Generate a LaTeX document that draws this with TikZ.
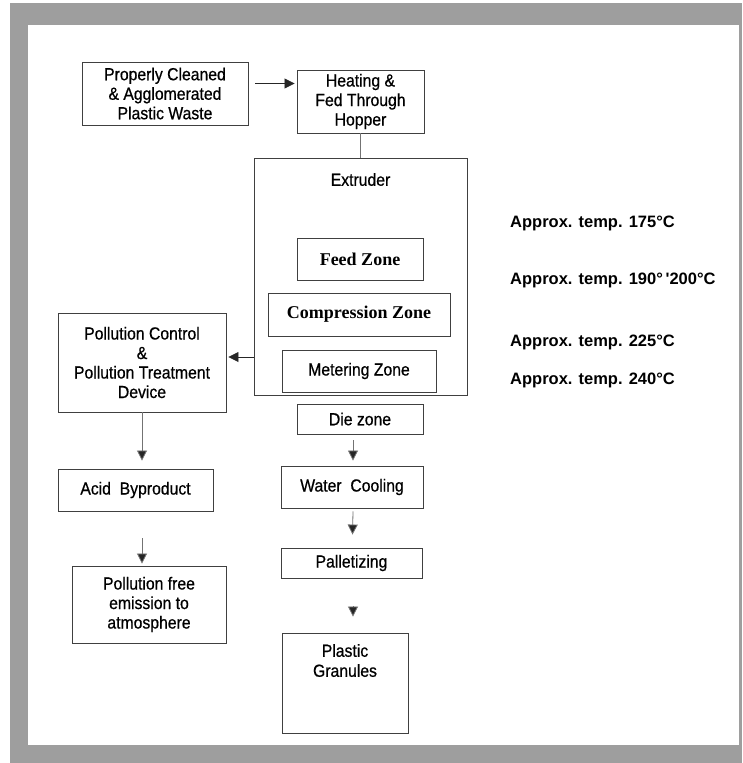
\documentclass[tikz,border=0pt]{standalone}
\usepackage{fontspec}
\setmainfont{Liberation Sans}
\newfontfamily\narrowsans[FakeStretch=0.9,FakeBold=0.6]{Liberation Sans}
\newfontfamily\boxserif{Liberation Serif}
\usetikzlibrary{arrows.meta,calc}
\definecolor{framegray}{gray}{0.62}
\definecolor{edge}{gray}{0.25}
\tikzset{
  box/.style={draw=edge, line width=0.9pt, inner sep=0pt, align=center,
    font=\narrowsans\fontsize{17.5}{19.5}\selectfont},
  zonebox/.style={box, font=\boxserif\bfseries\fontsize{18}{20}\selectfont},
  temp/.style={anchor=west, inner sep=0pt, font=\bfseries\fontsize{16.5}{18}\selectfont},
  flow/.style={draw=black!55, line width=0.8pt,
    -{Triangle[width=10pt,length=10pt,fill=black!85]}},
  link/.style={draw=black!55, line width=0.8pt}
}
\begin{document}
\begin{tikzpicture}[x=1pt,y=-1pt]
\useasboundingbox (0,0) rectangle (742,763);
% frame
\fill[framegray] (10,3) rectangle (742,763);
\fill[white] (28,25) rectangle (739,745);

% main line
\node[box, minimum width=166pt, minimum height=63pt] (clean) at (165,93.5)
  {Properly Cleaned\\ \& Agglomerated\\ Plastic Waste};
\node[box, minimum width=127pt, minimum height=63pt] (hopper) at (360.5,101.5)
  {Heating \&\\ Fed Through\\ Hopper};
\node[box, minimum width=213pt, minimum height=237pt,
  label={[name=extlbl, anchor=north, yshift=-12pt, font=\narrowsans\fontsize{17.5}{19}\selectfont]north:Extruder}]
  (extruder) at (360.5,276.5) {};
\node[zonebox, minimum width=126pt, minimum height=42pt] (feed) at (360,259) {Feed Zone};
\node[zonebox, minimum width=182pt, minimum height=43pt] (comp) at (359,314.5) {Compression Zone};
\node[box, minimum width=154pt, minimum height=42pt] (meter) at (359,371) {Metering Zone};
\node[box, minimum width=126pt, minimum height=30pt] (die) at (360,419) {Die zone};
\node[box, minimum width=142pt, minimum height=42pt] (water) at (352,487) {Water\ \ Cooling};
\node[box, minimum width=141pt, minimum height=30pt] (pallet) at (351.5,563) {Palletizing};
\node[box, minimum width=126pt, minimum height=100pt,
  label={[name=granlbl, anchor=north, yshift=-8pt, align=center, font=\narrowsans\fontsize{17.5}{20}\selectfont]north:Plastic\\ Granules}]
  (granules) at (345,683) {};

% pollution branch
\node[box, minimum width=168pt, minimum height=99pt] (poll) at (142,362.5)
  {Pollution Control\\ \&\\ Pollution Treatment\\ Device};
\node[box, minimum width=155pt, minimum height=42pt] (acid) at (135.5,490) {Acid\ \ Byproduct};
\node[box, minimum width=154pt, minimum height=77pt] (pfree) at (149,604.5)
  {Pollution free\\ emission to\\ atmosphere};

% zone temperatures
\node[temp] (t1) at (510,223) {Approx. temp. 175°C};
\node[temp] (t2) at (510,280) {Approx. temp. 190°\,\textquotesingle200°C};
\node[temp] (t3) at (510,342) {Approx. temp. 225°C};
\node[temp] (t4) at (510,380) {Approx. temp. 240°C};

% connectors
\draw[flow, draw=black!85] ($(clean.east)+(7,-10)$) -- ($(hopper.west)+(-2,-18)$);
\draw[link] (hopper.south) -- (extruder.north);
\coordinate (pollin) at (0,357);
\draw[flow, draw=black!85] (extruder.west |- pollin) -- ($(poll.east |- pollin)+(2,0)$);
\draw[flow] (poll.south) -- ($(poll.south |- acid.north)+(0,-8)$);
\draw[flow] ($(poll.south |- acid.south)+(0,27)$) -- ($(poll.south |- pfree.north)+(0,-2)$);
\draw[flow] ($(die.south -| water.north)+(1,6)$) -- ($(water.north)+(1,-5)$);
\draw[flow] ($(water.south)+(1,3)$) -- ($(pallet.north)+(1,-13)$);
\draw[flow] ($(pallet.south)+(1.5,28)$) -- ($(granules.north)+(8,-16)$);
\end{tikzpicture}
\end{document}
